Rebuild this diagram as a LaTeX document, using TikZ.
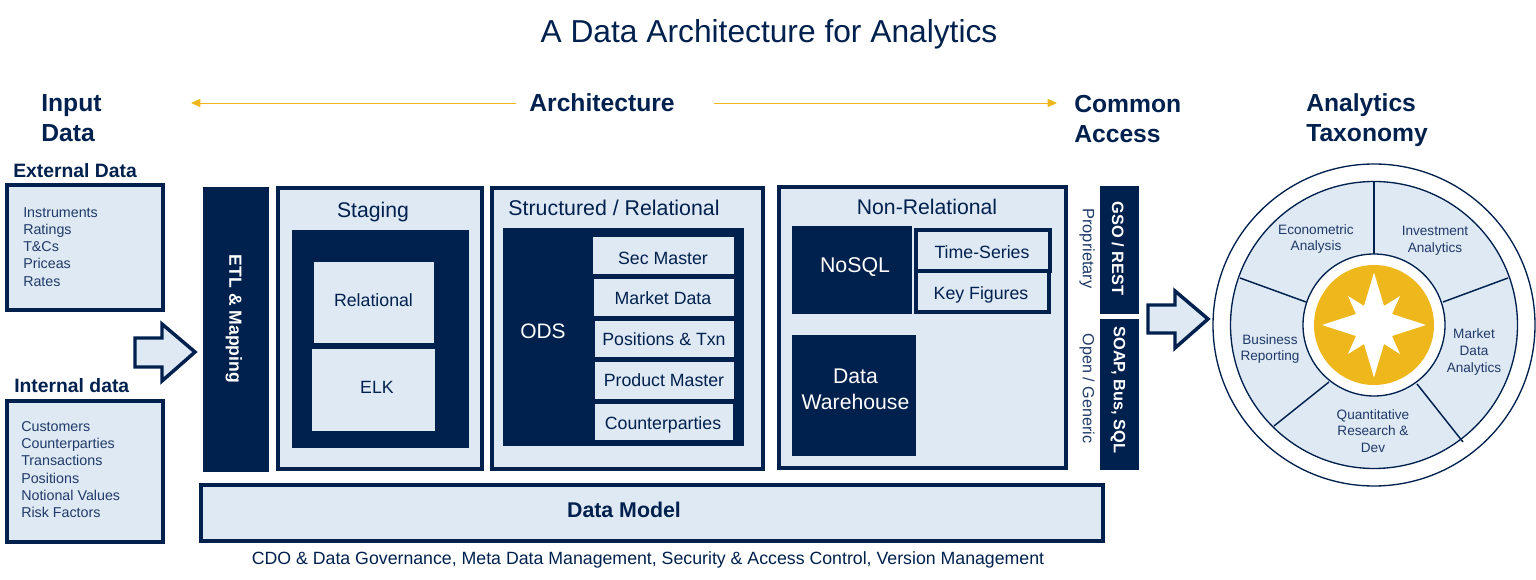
\documentclass[tikz,border=0pt]{standalone}
\usepackage{fontspec}
\setmainfont{Liberation Sans}
\definecolor{navy}{HTML}{00204E}
\definecolor{pale}{HTML}{DFE9F3}
\definecolor{gold}{HTML}{EEB71C}
\definecolor{softnavy}{HTML}{1F3A68}
\usetikzlibrary{arrows.meta}
\newcommand{\fsz}[1]{\fontsize{#1}{#1}\selectfont}
\tikzset{
 x=0.75pt,y=-0.75pt,
 palebox/.style={fill=pale,draw=navy,line width=#1},
 palebox/.default=3pt,
 lab/.style={text=navy,inner sep=0pt,align=center},
 leftlab/.style={text=navy,inner sep=0pt,align=left},
 whitelab/.style={text=white,inner sep=0pt,align=center},
 head2/.style={leftlab,font=\bfseries\fsz{18.5}},
 sublab/.style={leftlab,font=\bfseries\fsz{14.5}},
 small/.style={leftlab,text=softnavy,font=\fontsize{10.7}{12.95}\selectfont},
 body/.style={lab,font=\fsz{13.3}},
 boxtitle/.style={lab,font=\fsz{15.9}},
 wheel/.style={lab,text=softnavy,font=\fontsize{10.2}{12.4}\selectfont},
 bigarrow/.style={fill=pale,draw=navy,line width=2.6pt,miter limit=10},
 goldline/.style={draw=gold,line width=0.6pt,-{Triangle[length=7pt,width=6pt]}},
 spoke/.style={navy,line width=1.1pt},
}
\begin{document}
\begin{tikzpicture}
\useasboundingbox (0,0) rectangle (1536,580);
\node[lab,font=\fsz{23.8}] (title) at (769,34) {A Data Architecture for Analytics};
\node[head2,anchor=west] (h1) at (41,106) {Input};
\node[head2,anchor=west] (h1b) at (41,133) {Data};
\node[lab,font=\bfseries\fsz{18.5}] (h2) at (602,103) {Architecture};
\node[head2,anchor=west] (h3) at (1074,104) {Common};
\node[head2,anchor=west] (h3b) at (1074,134) {Access};
\node[head2,anchor=west] (h4) at (1306,105) {Analytics};
\node[head2,anchor=west] (h4b) at (1306,136) {Taxonomy};
\coordinate (al) at (191,103); \coordinate (alb) at (516,103);
\coordinate (ar) at (1057,103); \coordinate (arb) at (714,103);
\draw[goldline] (alb) -- (al);
\draw[goldline] (arb) -- (ar);
% input
\node[sublab,anchor=west] (ext) at (13,171) {External Data};
\node[sublab,anchor=west] (int) at (14,386) {Internal data};
\draw[palebox] (7,185) rectangle (163,310);
\draw[palebox] (7,401) rectangle (163,542);
\node[small,anchor=north west] (extl) at (23,207) {Instruments\\Ratings\\T\&Cs\\Priceas\\Rates};
\node[small,anchor=north west] (intl) at (21,421) {Customers\\Counterparties\\Transactions\\Positions\\Notional Values\\Risk Factors};
\draw[bigarrow] (135,338) -- (162,338) -- (162,324) -- (195,352) -- (162,381) -- (162,367) -- (135,367) -- cycle;
% ETL
\fill[navy] (203,187) rectangle (269,472);
\node[whitelab,rotate=-90,font=\bfseries\fsz{13.2}] (etl) at (234,319) {ETL \& Mapping};
% staging
\draw[palebox] (277.5,188) rectangle (482,469);
\node[boxtitle] (stg) at (373,212.5) {Staging};
\fill[navy] (292,230) rectangle (469,448);
\fill[pale] (314,262) rectangle (434,343);
\fill[pale] (312,349) rectangle (435,431);
\node[body] (rel) at (373.5,300) {Relational};
\node[body] (elk) at (377,387) {ELK};
% structured
\draw[palebox] (491.5,188) rectangle (763,469);
\node[boxtitle,font=\fsz{16}] (str) at (614,208) {Structured / Relational};
\fill[navy] (503,228) rectangle (744,446);
\node[whitelab,font=\fsz{15.7}] (ods) at (543,331) {ODS};
\foreach \n/\xa/\ya/\xb/\yb/\tx/\ty/\t in {a/593/237/734/274/663/258/Sec Master,b/594/279/734/316/663/298/Market Data,c/595/321/734/357/664/339/Positions \& Txn,d/595/362/734/399/664/380/Product Master,e/595/404/733/440/663/425/Counterparties}{
 \fill[pale] (\xa,\ya) rectangle (\xb,\yb);
 \node[body] (s\n) at (\tx,\ty) {\t};
}
% non relational
\draw[palebox] (778.5,187.5) rectangle (1066,468);
\node[boxtitle] (nr) at (927,207) {Non-Relational};
\fill[navy] (792,226) rectangle (912,314);
\node[whitelab,font=\fsz{16}] (nosql) at (855,267) {NoSQL};
\fill[navy] (792,335) rectangle (916,456);
\node[whitelab,font=\fontsize{15.9}{19.5}\selectfont] (dw) at (855.5,389) {Data\\Warehouse};
\draw[palebox] (916,230) rectangle (1049.5,271);
\draw[palebox] (916,271) rectangle (1048.5,312);
\node[body] (ts) at (982,252) {Time-Series};
\node[body] (kf) at (981,295) {Key Figures};
% access
\node[lab,rotate=-90,text=softnavy,font=\fsz{12.3}] (prop) at (1087,248.5) {Proprietary};
\node[lab,rotate=-90,text=softnavy,font=\fsz{12.1}] (open) at (1087,388.5) {Open / Generic};
\fill[navy] (1100,186) rectangle (1139,314);
\fill[navy] (1100,319) rectangle (1139,470);
\node[whitelab,rotate=-90,font=\bfseries\fsz{12.3}] (gso) at (1118,248.5) {GSO / REST};
\node[whitelab,rotate=-90,font=\bfseries\fsz{12.3}] (soap) at (1118,390) {SOAP, Bus, SQL};
\draw[bigarrow] (1148,305) -- (1175,305) -- (1175,291) -- (1208,319) -- (1175,348) -- (1175,333) -- (1148,333) -- cycle;
% model
\draw[palebox] (201,485) rectangle (1103,541);
\node[lab,font=\bfseries\fsz{16}] (dm) at (624,510) {Data Model};
\node[lab,font=\fsz{13.3}] (gov) at (648,560) {CDO \& Data Governance, Meta Data Management, Security \& Access Control, Version Management};
% wheel
\coordinate (c) at (1374,325);
\draw[navy,line width=1pt,fill=white] (c) circle (161);
\draw[navy,line width=1pt,fill=pale] (c) circle (143.5);
\draw[spoke] (1374,254) -- (1374,181);
\draw[spoke] (1443,302) -- (1508,278);
\draw[spoke] (1306,302) -- (1240,278);
\draw[spoke] (1329,382) -- (1274,426);
\draw[spoke] (1417,384) -- (1463,442);
\draw[navy,line width=1pt,fill=white] (c) circle (71);
\fill[gold] (c) circle (60);
\fill[white] (1374,272.5) -- (1384,306) -- (1400,296) -- (1392,314) -- (1426,325) -- (1392,336) -- (1400,354) -- (1384,344) -- (1374,377.5) -- (1364,344) -- (1348,354) -- (1356,336) -- (1322,325) -- (1356,314) -- (1348,296) -- (1364,306) -- cycle;
\node[wheel] (w1) at (1316,239) {Econometric\\Analysis};
\node[wheel] (w2) at (1435,241) {Investment\\Analytics};
\node[wheel] (w3) at (1474,352) {Market\\Data\\Analytics};
\node[wheel] (w4) at (1373,431) {Quantitative\\Research \&\\Dev};
\node[wheel] (w5) at (1270,349) {Business\\Reporting};
\end{tikzpicture}
\end{document}
